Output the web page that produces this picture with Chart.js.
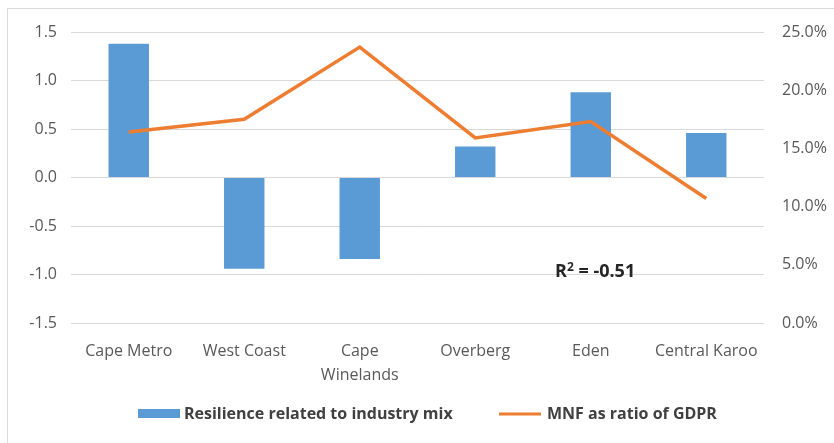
<!DOCTYPE html>
<html>
<head>
<meta charset="utf-8">
<script src="https://cdn.jsdelivr.net/npm/chart.js@4.4.1/dist/chart.umd.min.js"></script>
<style>
    html, body { margin: 0; padding: 0; background: #fff; }
    #wrap { position: relative; width: 834px; height: 443px; overflow: hidden; }
    #frame { position: absolute; left: 7px; top: 8px; width: 840px; height: 450px; border: 1px solid #d9d9d9; box-sizing: border-box; }
    #chart { position: absolute; left: 0; top: 0; }
</style>
</head>
<body>
<div id="wrap">
    <div id="frame"></div>
    <canvas id="chart" width="834" height="443"></canvas>
</div>
<script>
const districts = ['Cape Metro', 'West Coast', ['Cape', 'Winelands'], 'Overberg', 'Eden', 'Central Karoo'];
const resilience = [1.38, -0.94, -0.84, 0.32, 0.88, 0.46];
const mnfRatio = [0.164, 0.175, 0.237, 0.159, 0.173, 0.107];
const leftTicks = [-1.5, -1.0, -0.5, 0.0, 0.5, 1.0, 1.5];
const rightTicks = [0, 0.05, 0.10, 0.15, 0.20, 0.25];

const FONT = '"Open Sans", sans-serif';
const BLUE = '#5b9bd5';
const ORANGE = '#ed7d31';

// legend and the R² note are drawn by hand so the swatches can differ in shape
const notesPlugin = {
    id: 'notes',
    afterDraw(chart) {
        const ctx = chart.ctx;
        ctx.save();
        ctx.textBaseline = 'alphabetic';
        ctx.fillStyle = '#262626';
        ctx.font = 'bold 18px ' + FONT;
        let x = 555, y = 277;
        ctx.fillText('R', x, y);
        x += ctx.measureText('R').width;
        ctx.font = 'bold 12px ' + FONT;
        ctx.fillText('2', x, y - 6);
        x += ctx.measureText('2').width;
        ctx.font = 'bold 18px ' + FONT;
        ctx.fillText(' = -0.51', x, y);

        // legend
        ctx.font = 'bold 16px ' + FONT;
        ctx.textBaseline = 'middle';
        ctx.fillStyle = BLUE;
        ctx.fillRect(138, 409, 42, 9);
        ctx.fillStyle = '#404040';
        ctx.fillText('Resilience related to industry mix', 184, 414);
        ctx.strokeStyle = ORANGE;
        ctx.lineWidth = 3;
        ctx.beginPath();
        ctx.moveTo(499, 414);
        ctx.lineTo(541, 414);
        ctx.stroke();
        ctx.fillText('MNF as ratio of GDPR', 547, 414);
        ctx.restore();
    }
};

const tickFont = { family: FONT, size: 16, lineHeight: 1.5 };

new Chart(document.getElementById('chart'), {
    data: {
        labels: districts,
        datasets: [
            {
                type: 'line',
                label: 'MNF as ratio of GDPR',
                data: mnfRatio,
                yAxisID: 'y1',
                borderColor: ORANGE,
                borderWidth: 3.5,
                pointRadius: 0,
                tension: 0,
                order: 0
            },
            {
                type: 'bar',
                label: 'Resilience related to industry mix',
                data: resilience,
                yAxisID: 'y',
                backgroundColor: BLUE,
                categoryPercentage: 1,
                barPercentage: 0.35,
                order: 1
            }
        ]
    },
    options: {
        responsive: false,
        animation: false,
        layout: { padding: { top: 32, left: 0, right: 0, bottom: 0 } },
        plugins: {
            legend: { display: false },
            tooltip: { enabled: false }
        },
        scales: {
            x: {
                grid: { display: false },
                border: { display: false },
                ticks: { color: '#595959', font: tickFont, padding: 8, maxRotation: 0, autoSkip: false },
                afterFit(scale) { scale.height = 120; }
            },
            y: {
                position: 'left',
                min: -1.5,
                max: 1.5,
                afterBuildTicks(scale) { scale.ticks = leftTicks.map(v => ({ value: v })); },
                grid: { color: '#d9d9d9', lineWidth: 1, drawTicks: false },
                border: { display: false },
                ticks: { color: '#595959', font: tickFont, padding: 14, callback: v => v.toFixed(1) },
                afterFit(scale) { scale.width = 71; }
            },
            y1: {
                position: 'right',
                min: 0,
                max: 0.25,
                afterBuildTicks(scale) { scale.ticks = rightTicks.map(v => ({ value: v })); },
                grid: { display: false, drawTicks: false },
                border: { display: false },
                ticks: { color: '#595959', font: tickFont, padding: 18, callback: v => (v * 100).toFixed(1) + '%' },
                afterFit(scale) { scale.width = 70; }
            }
        }
    },
    plugins: [notesPlugin]
});
</script>
</body>
</html>
